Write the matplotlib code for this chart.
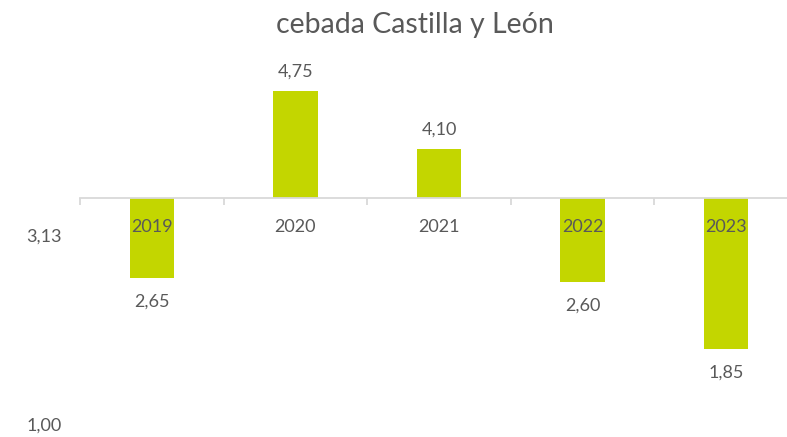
import matplotlib.pyplot as plt

# Datos
years = ['2019', '2020', '2021', '2022', '2023']
values = [2.65, 4.75, 4.10, 2.60, 1.85]
value_labels = ['2,65', '4,75', '4,10', '2,60', '1,85']
base = 3.55  # el eje horizontal cruza aqui
ytick_values = [1.00, 3.13]
ytick_labels = ['1,00', '3,13']

bar_color = '#C3D600'
text_color = '#595959'
line_color = '#D9D9D9'

plt.rcParams['font.family'] = ['Lato', 'DejaVu Sans']

fig = plt.figure(figsize=(7.87, 4.37), dpi=100)
ax = fig.add_axes([80 / 787, 0.0284, 718 / 787, 0.867])

x = list(range(len(years)))
heights = [v - base for v in values]
ax.bar(x, heights, bottom=base, width=0.31, color=bar_color, zorder=1)

ax.set_xlim(-0.5, len(years) - 0.5)
ax.set_ylim(1.0, 5.26)

# eje x en la linea base
for s in ['top', 'right', 'left']:
    ax.spines[s].set_visible(False)
ax.spines['bottom'].set_position(('data', base))
ax.spines['bottom'].set_color(line_color)
ax.spines['bottom'].set_linewidth(1.3)

ax.set_xticks(x)
ax.set_xticklabels(years)
ax.set_xticks([i - 0.5 for i in range(len(years) + 1)], minor=True)
ax.tick_params(axis='x', which='major', length=0, pad=15, labelsize=13, labelcolor=text_color)
ax.tick_params(axis='x', which='minor', length=5, width=1.3, color=line_color)

ax.set_yticks(ytick_values)
ax.set_yticklabels(ytick_labels)
ax.tick_params(axis='y', length=0, pad=13, labelsize=13, labelcolor=text_color)

# etiquetas de valores
for xi, v, lab in zip(x, values, value_labels):
    if v >= base:
        ax.annotate(lab, (xi, v), xytext=(0, 14), textcoords='offset points',
                    ha='center', va='center', fontsize=13, color=text_color)
    else:
        ax.annotate(lab, (xi, v), xytext=(0, -17), textcoords='offset points',
                    ha='center', va='center', fontsize=13, color=text_color)

fig.text(415 / 787, 1 - 25 / 437, 'cebada Castilla y León', ha='center', va='center',
         fontsize=20.5, color=text_color)

plt.savefig('out.png', dpi=100)
